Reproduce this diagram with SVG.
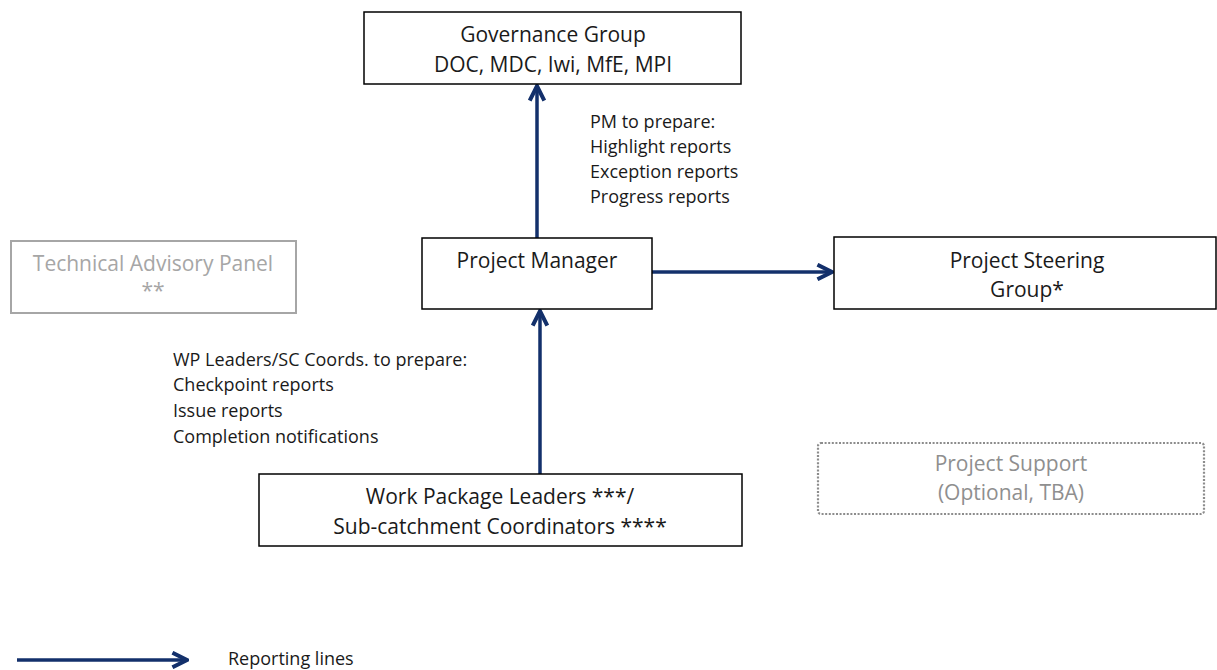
<svg xmlns="http://www.w3.org/2000/svg" width="1217" height="670" viewBox="0 0 1217 670">
  <style>
    .box { fill: #ffffff; stroke: #000000; stroke-width: 1.5; }
    .faint { fill: #ffffff; stroke: #a6a6a6; stroke-width: 2; }
    .dotted { fill: #ffffff; stroke: #8c8c8c; stroke-width: 2.2; stroke-dasharray: 2 1.6; }
    .t { font-family: "Open Sans", "Liberation Sans", sans-serif; font-size: 21px; fill: #1a1a1a; }
    .note { font-family: "Open Sans", "Liberation Sans", sans-serif; font-size: 18px; fill: #1a1a1a; }
    .grey { fill: #a6a6a6; }
    .grey2 { fill: #8f8f8f; }
    .link { stroke: #13306b; stroke-width: 3.5; fill: none; marker-end: url(#chev); }
    .mid { text-anchor: middle; }
  </style>
  <defs>
    <marker id="chev" viewBox="0 0 10 10" refX="9" refY="5" markerWidth="5.2" markerHeight="5.2" orient="auto" markerUnits="strokeWidth">
      <path d="M1,1 L9,5 L1,9" fill="none" stroke="#13306b" stroke-width="2.2" stroke-linejoin="miter"/>
    </marker>
  </defs>
  <rect width="1217" height="670" fill="#ffffff"/>

  <g id="connectors">
    <line class="link" x1="537" y1="238" x2="537" y2="86"/>
    <line class="link" x1="652" y1="272" x2="832" y2="272"/>
    <line class="link" x1="540" y1="474" x2="540" y2="311"/>
    <line class="link" x1="17" y1="660" x2="187" y2="660"/>
  </g>

  <g id="governance">
    <rect class="box" x="364" y="12" width="377" height="72"/>
    <text class="t mid" x="553" y="42">Governance Group</text>
    <text class="t mid" x="553" y="72">DOC, MDC, Iwi, MfE, MPI</text>
  </g>

  <g id="pm-reports">
    <text class="note" x="590" y="128">PM to prepare:</text>
    <text class="note" x="590" y="153">Highlight reports</text>
    <text class="note" x="590" y="178">Exception reports</text>
    <text class="note" x="590" y="203">Progress reports</text>
  </g>

  <g id="technical-advisory">
    <rect class="faint" x="11" y="241" width="285" height="72"/>
    <text class="t mid grey" x="153" y="271">Technical Advisory Panel</text>
    <text class="t mid grey" x="153" y="298">**</text>
  </g>

  <g id="project-manager">
    <rect class="box" x="422" y="238" width="230" height="71"/>
    <text class="t mid" x="537" y="268">Project Manager</text>
  </g>

  <g id="steering-group">
    <rect class="box" x="834" y="237" width="382" height="72"/>
    <text class="t mid" x="1027" y="268">Project Steering</text>
    <text class="t mid" x="1027" y="297">Group*</text>
  </g>

  <g id="wp-reports">
    <text class="note" x="173" y="366">WP Leaders/SC Coords. to prepare:</text>
    <text class="note" x="173" y="391">Checkpoint reports</text>
    <text class="note" x="173" y="417">Issue reports</text>
    <text class="note" x="173" y="443">Completion notifications</text>
  </g>

  <g id="project-support">
    <rect class="dotted" x="818" y="443" width="386" height="71" rx="3"/>
    <text class="t mid grey2" x="1011" y="471">Project Support</text>
    <text class="t mid grey2" x="1011" y="500">(Optional, TBA)</text>
  </g>

  <g id="work-packages">
    <rect class="box" x="259" y="474" width="483" height="72"/>
    <text class="t mid" x="500" y="504">Work Package Leaders ***/</text>
    <text class="t mid" x="500" y="534">Sub-catchment Coordinators ****</text>
  </g>

  <g id="legend">
    <text class="note" x="228" y="665">Reporting lines</text>
  </g>
</svg>
